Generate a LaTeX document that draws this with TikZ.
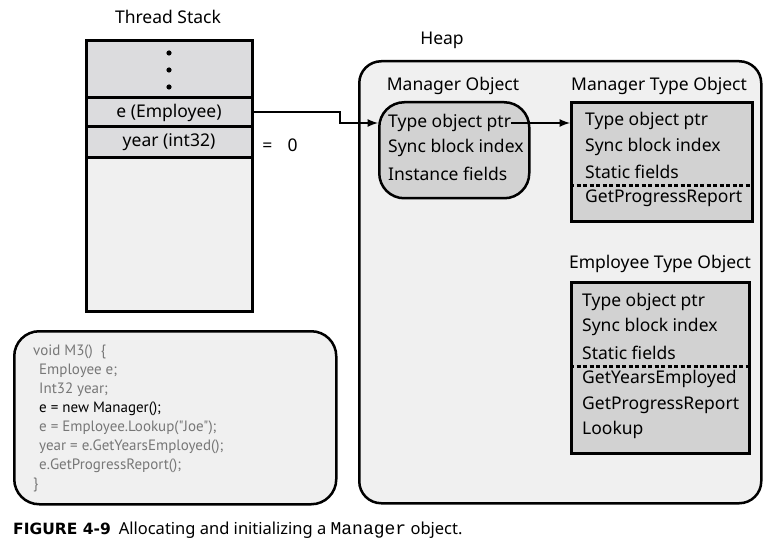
\documentclass[tikz,border=0pt]{standalone}
\usepackage{fontspec}
\setmainfont{Noto Sans}
\setmonofont{Liberation Mono}
\newfontfamily\codefont{PT Sans}
\newfontfamily\figfont{DejaVu Sans}
\usetikzlibrary{positioning}

\definecolor{rowgray}{HTML}{DCDCDE}
\definecolor{panelgray}{HTML}{F0F0F0}
\definecolor{objgray}{HTML}{D2D2D2}
\definecolor{codegray}{HTML}{777777}

\begin{document}
\begin{tikzpicture}[x=1pt,y=-1pt,>=latex,
  every node/.style={font=\fontsize{17.5}{20}\selectfont},
  row/.style={draw,line width=3pt,fill=rowgray,minimum width=166pt,inner sep=0pt,outer sep=0pt},
  panel/.style={draw,line width=2.5pt,fill=panelgray,rounded corners=22pt,anchor=north west,inner sep=0pt},
  typebox/.style={draw,line width=3pt,fill=objgray,anchor=north west,inner sep=0pt},
  field/.style={anchor=west,inner sep=0pt},
  codeline/.style={anchor=west,inner sep=0pt,text=codegray,font=\codefont\fontsize{15}{19}\selectfont},
  title/.style={inner sep=0pt},
  sep/.style={line width=3pt,dash pattern=on 4pt off 2.5pt},
  ptr/.style={->,line width=2.5pt}]
\useasboundingbox (0,0) rectangle (773,545);

% thread stack
\node[title] (stacklbl) at (168,17) {Thread Stack};
\node[row,minimum height=57pt,anchor=north] (dots) at (169,41) {};
\node[row,minimum height=29pt,below=0pt of dots] (erow) {e (Employee)};
\node[row,minimum height=31pt,below=0pt of erow] (yrow) {year (int32)};
\node[row,minimum height=153pt,fill=panelgray,below=0pt of yrow] (free) {};
\foreach \y in {53,70,87} \fill (169,\y) circle (2.6pt);
\node[title] (yval) at (280,145) {=\hspace{15pt}0};

% heap
\node[title] (heaplbl) at (442,40) {Heap};
\node[panel,minimum width=402pt,minimum height=442pt] (heap) at (358,60) {};

\node[title] (mgrlbl) at (453,86) {Manager Object};
\node[panel,line width=2.5pt,fill=objgray,rounded corners=25pt,
  minimum width=150pt,minimum height=96pt] (mgr) at (378,101) {};
\node[field] (mgrptr) at (388,123) {Type object ptr};
\node[field] (mgrsync) at (388,148) {Sync block index};
\node[field] (mgrinst) at (388,174) {Instance fields};

\node[title] (mtlbl) at (659,86) {Manager Type Object};
\node[typebox,minimum width=181pt,minimum height=119pt] (mtype) at (570,101) {};
\node[field] (mtptr) at (585,121) {Type object ptr};
\node[field] (mtsync) at (585,147) {Sync block index};
\node[field] (mtstat) at (585,172) {Static fields};
\node[field] (mtprog) at (585,198) {GetProgressReport};
\draw[sep] (mtype.west |- 0,186) -- (mtype.east |- 0,186);

\node[title] (etlbl) at (660,264) {Employee Type Object};
\node[typebox,minimum width=178pt,minimum height=171pt] (etype) at (570,281) {};
\node[field] (etptr) at (582,302) {Type object ptr};
\node[field] (etsync) at (582,327) {Sync block index};
\node[field] (etstat) at (582,353) {Static fields};
\node[field] (etyears) at (582,379) {GetYearsEmployed};
\node[field] (etprog) at (582,405) {GetProgressReport};
\node[field] (etlook) at (582,430) {Lookup};
\draw[sep] (etype.west |- 0,366) -- (etype.east |- 0,366);

% pointers
\coordinate (bend) at (340,112);
\draw[ptr] (erow.east |- bend) -- (bend) |- (mgr.west |- mgrptr);
\draw[ptr] (mgrptr.east) -- (mtype.west |- mgrptr);

% code
\node[panel,minimum width=322pt,minimum height=173pt,rounded corners=25pt] (code) at (13,330) {};
\foreach \txt [count=\i] in {{void M3()\ \ \{},
    {\hspace*{6pt}Employee e;},
    {\hspace*{6pt}Int32 year;},
    {\hspace*{6pt}\textcolor{black}{e = new Manager();}},
    {\hspace*{6pt}e = Employee.Lookup("Joe");},
    {\hspace*{6pt}year = e.GetYearsEmployed();},
    {\hspace*{6pt}e.GetProgressReport();},
    {\}}}
  \node[codeline] (src\i) at (33,333+19*\i) {\txt};

% caption
\node[anchor=west,inner sep=0pt,font=\fontsize{16.5}{18}\selectfont] (caption) at (13,530)
  {{\figfont\bfseries\fontsize{15.5}{18}\selectfont FIGURE 4-9}\hspace{8pt}Allocating and initializing a {\ttfamily\fontsize{18}{18}\selectfont Manager} object.};
\end{tikzpicture}
\end{document}
